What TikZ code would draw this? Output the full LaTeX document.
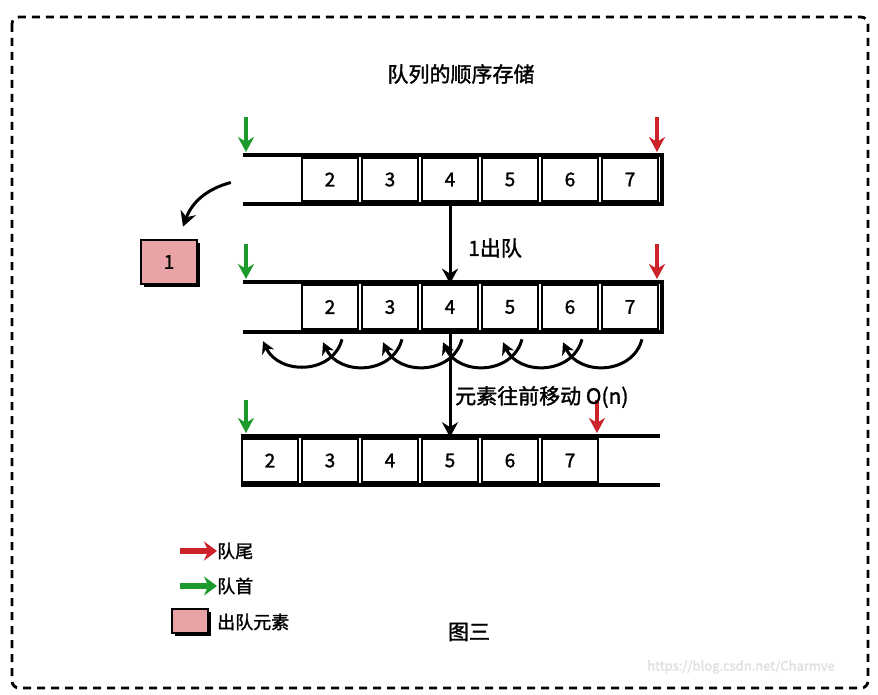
\documentclass[tikz,border=0pt]{standalone}
\usepackage{fontspec}
\setmainfont{Noto Sans CJK SC}[FakeBold=1.5]
\usepackage{xcolor}
\usepackage{tikz}
\usetikzlibrary{positioning,arrows.meta,shadows}
\definecolor{headgreen}{HTML}{1C9A2B}
\definecolor{tailred}{HTML}{CC2229}
\definecolor{poppink}{HTML}{E9A2A5}
\tikzset{
  % --- queue slots -----------------------------------------------------------
  cell/.style={rectangle,draw,line width=2.6pt,minimum width=56pt,
               minimum height=44pt,inner sep=0pt,font=\fontsize{19}{22}\selectfont},
  slot/.style={rectangle,minimum width=56pt,minimum height=44pt,inner sep=0pt},
  rail/.style={line width=4pt},
  popped/.style={cell,fill=poppink,
                 drop shadow={shadow xshift=3pt,shadow yshift=-3pt,fill=black,opacity=1}},
  % --- pointers and moves ----------------------------------------------------
  headmk/.style={-{Stealth[length=15pt,width=16pt]},line width=3.6pt,headgreen},
  tailmk/.style={-{Stealth[length=15pt,width=16pt]},line width=3.6pt,tailred},
  shiftdown/.style={-{Stealth[length=15pt,width=16pt]},line width=3pt},
  shiftarc/.style={-{Stealth[length=12pt,width=13pt]},line width=3pt},
  keyarrow/.style={-{Stealth[length=13pt,width=19pt]},line width=5.5pt},
  % --- text ------------------------------------------------------------------
  lbl/.style={inner sep=0pt,font=\fontsize{21}{24}\selectfont},
  keylbl/.style={inner sep=0pt,font=\fontsize{18}{21}\selectfont},
  boxframe/.style={dashed,dash pattern=on 8pt off 6pt,line width=2.8pt,
                   rounded corners=7pt},
}

\begin{document}
\begin{tikzpicture}[x=1pt, y=-1pt]
  \useasboundingbox[fill=white] (0,0) rectangle (878,695);
  \draw[boxframe] (12,17) rectangle (868,688);

  \node[lbl] (title) at (461,74) {队列的顺序存储};

  % row 1: front slot just emptied
  \node[slot] (r1c1) at (270,179.5) {};
  \foreach \v in {2,...,7}
    \node[cell] (r1c\v) at (210+60*\v,179.5) {\v};
  \draw[rail] (243,155) -- (662,155) -- (662,204) -- (243,204);
  \coordinate (r1h) at (246,152);
  \coordinate (r1t) at (657,152);
  \draw[headmk] ([shift={(0,-35)}]r1h) -- (r1h);
  \draw[tailmk] ([shift={(0,-35)}]r1t) -- (r1t);

  \node[popped] (gone) at (169,262) {1};
  \draw[shiftdown] ([shift={(-11,3)}]r1c1.west) to[out=195,in=70]
        ([shift={(14,-12)}]gone.north);

  % row 2: every element steps one slot forward
  \node[slot] (r2c1) at (270,307) {};
  \foreach \v in {2,...,7}
    \node[cell] (r2c\v) at (210+60*\v,307) {\v};
  \draw[rail] (243,282) -- (662,282) -- (662,332) -- (243,332);
  \coordinate (r2h) at (246,279);
  \coordinate (r2t) at (657,279);
  \draw[headmk] ([shift={(0,-35)}]r2h) -- (r2h);
  \draw[tailmk] ([shift={(0,-35)}]r2t) -- (r2t);
  \foreach \v [count=\u] in {2,...,7}
    \draw[shiftarc] ([shift={(12,9)}]r2c\v.south) to[out=-105,in=-65,looseness=1.2]
          ([shift={(-7,12)}]r2c\u.south);

  \draw[shiftdown] (r1c4.south) -- (r2c4.north);
  \node[lbl,anchor=west] (deqlbl) at (468,248) {1出队};

  % row 3
  \foreach \v in {2,...,7}
    \node[cell] (r3c\v) at (150+60*\v,460.5) {\v};
  \node[slot] (r3c8) at (630,460.5) {};
  \draw[rail] (241,436) -- (660,436);
  \draw[rail] (241,485) -- (660,485);
  \coordinate (r3h) at (246,433);
  \coordinate (r3t) at (597,433);
  \draw[headmk] ([shift={(0,-33)}]r3h) -- (r3h);
  \draw[tailmk] ([shift={(0,-33)}]r3t) -- (r3t);

  \draw[shiftdown] (r2c4.south) -- (r3c5.north);
  \node[lbl,anchor=west] (movlbl) at (455,397) {元素往前移动 O(n)};

  % key
  \node[keylbl,anchor=west] (keyt) at (217,551) {队尾};
  \draw[keyarrow,tailred] ([xshift=-37pt]keyt.west) -- (keyt.west);
  \node[keylbl,anchor=west] (keyh) at (217,586) {队首};
  \draw[keyarrow,headgreen] ([xshift=-37pt]keyh.west) -- (keyh.west);
  \node[popped,minimum width=36pt,minimum height=24pt] (keyp) at (190,621) {};
  \node[keylbl,anchor=west] (keypl) at (217,622) {出队元素};

  \node[lbl] (cap) at (469,632) {图三};
  \node[font=\fontsize{13}{15}\selectfont,text=black!12] (wm) at (741,667)
        {https://blog.csdn.net/Charmve};
\end{tikzpicture}
\end{document}
